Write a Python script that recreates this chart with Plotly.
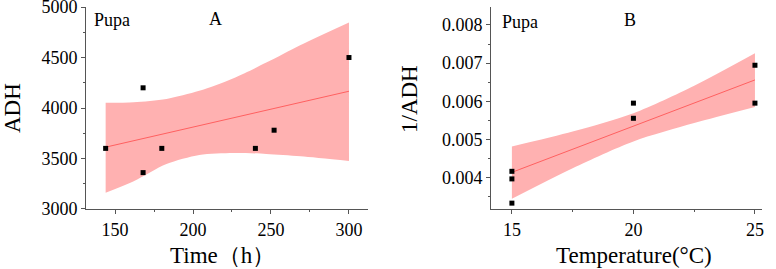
import plotly.graph_objects as go

# ---- Panel A: Time vs ADH ----
time_h = [144, 168, 168, 180, 240, 252, 300]
adh_a = [3600, 4200, 3360, 3600, 3600, 3780, 4500]
# fitted line and 95% band
fit_a_x = [144, 162, 183, 204, 226, 247, 269, 300]
fit_a_upper = [4052, 4058, 4090, 4170, 4295, 4450, 4625, 4848]
fit_a_lower = [3161, 3275, 3445, 3535, 3555, 3545, 3522, 3476]
line_a_x = [144, 300]
line_a_y = [3612, 4166]
ticks_a_x = [150, 200, 250, 300]
ticks_a_y = [3000, 3500, 4000, 4500, 5000]

# ---- Panel B: Temperature vs 1/ADH ----
temp_c = [15, 15, 15, 20, 20, 25, 25]
inv_adh = [1/240, 1/252, 1/300, 1/168, 1/180, 1/144, 1/168]
fit_b_x = [15, 17.5, 20, 22.5, 25]
fit_b_upper = [0.00482, 0.00521, 0.00569, 0.00641, 0.00726]
fit_b_lower = [0.00345, 0.00425, 0.00495, 0.00543, 0.00585]
line_b_x = [15, 25]
line_b_y = [0.00414, 0.00656]
ticks_b_x = [15, 20, 25]
ticks_b_y = [0.004, 0.005, 0.006, 0.007, 0.008]

FONT = "Liberation Serif"
BAND = "#ffb1b1"
LINE = "#ff6060"
AXC = "#555555"

fig = go.Figure()

def add_panel(x, y, fx, fup, flo, lx, ly, xa, ya):
    fig.add_trace(go.Scatter(x=fx, y=flo, mode="lines",
                             line=dict(width=0, shape="spline", smoothing=0.8, color=BAND),
                             xaxis=xa, yaxis=ya, hoverinfo="skip", showlegend=False))
    fig.add_trace(go.Scatter(x=fx, y=fup, mode="lines", fill="tonexty", fillcolor=BAND,
                             line=dict(width=0, shape="spline", smoothing=0.8, color=BAND),
                             xaxis=xa, yaxis=ya, hoverinfo="skip", showlegend=False))
    fig.add_trace(go.Scatter(x=lx, y=ly, mode="lines", line=dict(color=LINE, width=1),
                             xaxis=xa, yaxis=ya, showlegend=False))
    fig.add_trace(go.Scatter(x=x, y=y, mode="markers",
                             marker=dict(symbol="square", size=5, color="black", line=dict(width=0)),
                             xaxis=xa, yaxis=ya, showlegend=False))

add_panel(time_h, adh_a, fit_a_x, fit_a_upper, fit_a_lower, line_a_x, line_a_y, "x", "y")
add_panel(temp_c, inv_adh, fit_b_x, fit_b_upper, fit_b_lower, line_b_x, line_b_y, "x2", "y2")

def axis(**kw):
    d = dict(showline=True, linecolor=AXC, linewidth=1, ticks="outside", ticklen=4,
             tickcolor=AXC, showgrid=False, zeroline=False, mirror=False,
             automargin=False, ticklabeloverflow="allow",
             tickfont=dict(family=FONT, size=18, color="black"))
    d.update(kw)
    return d

fig.update_layout(
    width=776, height=269, margin=dict(l=0, r=0, t=0, b=0, autoexpand=False),
    plot_bgcolor="white", paper_bgcolor="white", showlegend=False,
    xaxis=axis(domain=[86/776, 368/776], range=[131.4, 312.2], tickvals=ticks_a_x,
               minor=dict(ticks="outside", ticklen=2, tickcolor=AXC, tick0=125, dtick=50),
               anchor="y"),
    yaxis=axis(domain=[60/269, 262/269], range=[2999.5, 5000.5], tickvals=ticks_a_y,
               minor=dict(ticks="outside", ticklen=2, tickcolor=AXC, tick0=3250, dtick=500),
               anchor="x"),
    xaxis2=axis(domain=[491/776, 762/776], range=[14.14, 25.29], tickvals=ticks_b_x,
                minor=dict(ticks="outside", ticklen=2, tickcolor=AXC, tick0=12.5, dtick=5),
                anchor="y2"),
    yaxis2=axis(domain=[60/269, 262/269], range=[0.00318, 0.00847], tickvals=ticks_b_y,
                tickformat=".3f",
                minor=dict(ticks="outside", ticklen=2, tickcolor=AXC, tick0=0.0035, dtick=0.001),
                anchor="x2"),
)

def label(text, x, y, size, angle=0, xanchor="center"):
    fig.add_annotation(text=text, x=x / 776, y=1 - y / 269, xref="paper", yref="paper",
                       xanchor=xanchor, yanchor="middle", showarrow=False, textangle=angle,
                       font=dict(family=FONT, size=size, color="black"))

label("Pupa", 92, 20, 18, xanchor="left")
label("A", 215, 19, 18)
label("Pupa", 500, 22, 18, xanchor="left")
label("B", 630, 20, 18)
label("ADH", 13, 108, 23, angle=-90)
label("Time（h）", 222, 255, 23)
label("1/ADH", 410, 99, 23, angle=-90)
label("Temperature(°C)", 634, 255, 23)

fig.write_html("out.html")
